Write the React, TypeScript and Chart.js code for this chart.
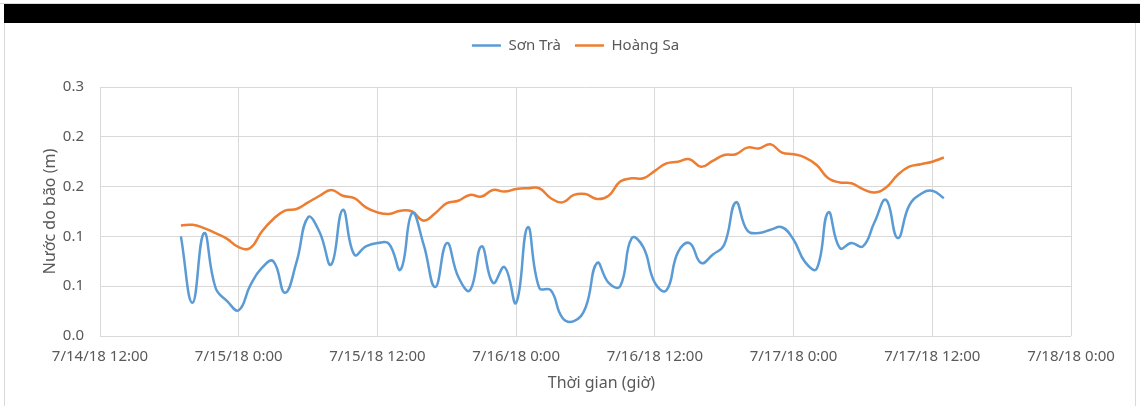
import React, { useEffect, useRef } from "react";
import { Chart, registerables } from "chart.js";

Chart.register(...registerables);

const SERIES_NAMES = ["Sơn Trà", "Hoàng Sa"];
const SERIES_COLORS = ["#5B9BD5", "#ED7D31"];

const X_TICK_LABELS = [
  "7/14/18 12:00",
  "7/15/18 0:00",
  "7/15/18 12:00",
  "7/16/18 0:00",
  "7/16/18 12:00",
  "7/17/18 0:00",
  "7/17/18 12:00",
  "7/18/18 0:00",
];
const Y_TICK_LABELS = ["0.0", "0.1", "0.1", "0.2", "0.2", "0.3"];
const X_TITLE = "Thời gian (giờ)";
const Y_TITLE = "Nước do bão (m)";

// hours after 7/14/18 12:00 (hourly samples)
const SAMPLE_HOURS = [
  7, 8, 9, 10, 11, 12, 13, 14, 15, 16, 17, 18, 19, 20, 21, 22, 23, 24, 25, 26,
  27, 28, 29, 30, 31, 32, 33, 34, 35, 36, 37, 38, 39, 40, 41, 42, 43, 44, 45, 46,
  47, 48, 49, 50, 51, 52, 53, 54, 55, 56, 57, 58, 59, 60, 61, 62, 63, 64, 65, 66,
  67, 68, 69, 70, 71, 72, 73,
];

const SON_TRA = [
  0.12, 0.04, 0.124, 0.058, 0.042, 0.031, 0.061, 0.082, 0.09, 0.052,
  0.089, 0.143, 0.125, 0.086, 0.152, 0.098, 0.108, 0.112, 0.111, 0.08,
  0.148, 0.11, 0.059, 0.112, 0.071, 0.055, 0.108, 0.064, 0.083, 0.04,
  0.131, 0.058, 0.055, 0.022, 0.018, 0.034, 0.088, 0.064, 0.06, 0.118,
  0.107, 0.064, 0.055, 0.101, 0.112, 0.088, 0.098, 0.11, 0.161, 0.127,
  0.124, 0.128, 0.131, 0.116, 0.089, 0.081, 0.149, 0.106, 0.112, 0.108,
  0.137, 0.164, 0.118, 0.157, 0.171, 0.175, 0.166,
];

const HOANG_SA = [
  0.133, 0.134, 0.13, 0.124, 0.117, 0.107, 0.106, 0.126, 0.141, 0.151,
  0.153, 0.161, 0.169, 0.176, 0.169, 0.166, 0.155, 0.149, 0.147, 0.151,
  0.15, 0.139, 0.148, 0.16, 0.163, 0.17, 0.168, 0.176, 0.174, 0.177,
  0.178, 0.178, 0.166, 0.161, 0.17, 0.171, 0.165, 0.169, 0.186, 0.19,
  0.19, 0.199, 0.208, 0.21, 0.213, 0.204, 0.211, 0.218, 0.219, 0.227,
  0.226, 0.231, 0.221, 0.219, 0.215, 0.206, 0.19, 0.185, 0.184, 0.177,
  0.173, 0.179, 0.194, 0.204, 0.207, 0.21, 0.215,
];

const TEXT_COLOR = "#595959";
const GRID_COLOR = "#D9D9D9";
const FONT = { family: "'Noto Sans', sans-serif", size: 15 };
const TITLE_FONT = { family: "'Noto Sans', sans-serif", size: 16 };

const legendPlacement = {
  id: "legendPlacement",
  beforeInit(chart: any) {
    const lg = chart.legend;
    if (!lg) return;
    const fit = lg.fit.bind(lg);
    lg.fit = function () {
      fit();
      this.height = 63;
    };
  },
  afterLayout(chart: any) {
    const lg = chart.legend;
    if (!lg) return;
    lg.left = chart.chartArea.left - 20;
    lg.right = chart.chartArea.right;
  },
};

// x-axis title, centred slightly right of the plot centre like the original
const xAxisTitle = {
  id: "xAxisTitle",
  afterDraw(chart: any) {
    const { ctx, chartArea } = chart;
    const xs = chart.scales.x;
    ctx.save();
    ctx.font = `${TITLE_FONT.size}px ${TITLE_FONT.family}`;
    ctx.fillStyle = TEXT_COLOR;
    ctx.textAlign = "center";
    ctx.textBaseline = "middle";
    ctx.fillText(X_TITLE, (chartArea.left + chartArea.right) / 2 + 16, xs.bottom - 23);
    ctx.restore();
  },
};

export default function App() {
  const ref = useRef<HTMLCanvasElement>(null);

  useEffect(() => {
    const series = [SON_TRA, HOANG_SA];
    const chart = new Chart(ref.current as HTMLCanvasElement, {
      type: "line",
      data: {
        datasets: series.map((vals, i) => ({
          label: SERIES_NAMES[i],
          data: SAMPLE_HOURS.map((h, j) => ({ x: h, y: vals[j] })),
          borderColor: SERIES_COLORS[i],
          backgroundColor: SERIES_COLORS[i],
          borderWidth: 2.5,
          pointRadius: 0,
          tension: 0.45,
          fill: false,
        })),
      },
      options: {
        animation: false,
        responsive: false,
        layout: { padding: { top: 24, right: 69, bottom: 0, left: 0 } },
        plugins: {
          tooltip: { enabled: false },
          legend: {
            position: "top",
            labels: {
              usePointStyle: true,
              pointStyleWidth: 29,
              padding: 14,
              color: TEXT_COLOR,
              font: FONT,
              generateLabels: (c: any) =>
                c.data.datasets.map((ds: any, i: number) => ({
                  text: ds.label,
                  strokeStyle: ds.borderColor,
                  fillStyle: ds.borderColor,
                  lineWidth: 2.5,
                  pointStyle: "line",
                  hidden: false,
                  datasetIndex: i,
                  fontColor: TEXT_COLOR,
                })),
            },
          },
        },
        scales: {
          x: {
            type: "linear",
            min: 0,
            max: 84,
            ticks: {
              stepSize: 12,
              autoSkip: false,
              maxRotation: 0,
              padding: 12,
              color: TEXT_COLOR,
              font: FONT,
              callback: (_v: any, i: number) => X_TICK_LABELS[i],
            },
            grid: { color: GRID_COLOR, drawTicks: false, lineWidth: 1 },
            border: { display: false },
            title: { display: false },
            afterFit: (s: any) => {
              s.height = 70;
            },
          },
          y: {
            min: 0,
            max: 0.3,
            ticks: {
              stepSize: 0.06,
              padding: 16,
              color: TEXT_COLOR,
              font: FONT,
              callback: (_v: any, i: number) => Y_TICK_LABELS[i],
            },
            grid: { color: GRID_COLOR, drawTicks: false, lineWidth: 1 },
            border: { display: false },
            title: {
              display: true,
              text: Y_TITLE,
              color: TEXT_COLOR,
              font: TITLE_FONT,
              padding: { top: 41, bottom: 0 },
            },
            afterFit: (s: any) => {
              s.width = 100;
            },
          },
        },
      },
      plugins: [legendPlacement, xAxisTitle],
    } as any);
    return () => chart.destroy();
  }, []);

  return (
    <div
      style={{
        position: "absolute",
        left: 0,
        top: 0,
        width: 1140,
        height: 406,
        background: "#fff",
        overflow: "hidden",
      }}
    >
      <div style={{ position: "absolute", left: 0, top: 3, width: 1140, height: 1, background: "#D9D9D9" }} />
      <div style={{ position: "absolute", left: 4, top: 4, width: 1136, height: 19, background: "#000" }} />
      <div style={{ position: "absolute", left: 4, top: 23, width: 1, height: 383, background: "#D9D9D9" }} />
      <div style={{ position: "absolute", left: 1135, top: 23, width: 1, height: 383, background: "#D9D9D9" }} />
      <canvas
        ref={ref}
        width={1140}
        height={406}
        style={{ position: "absolute", left: 0, top: 0 }}
      />
    </div>
  );
}
